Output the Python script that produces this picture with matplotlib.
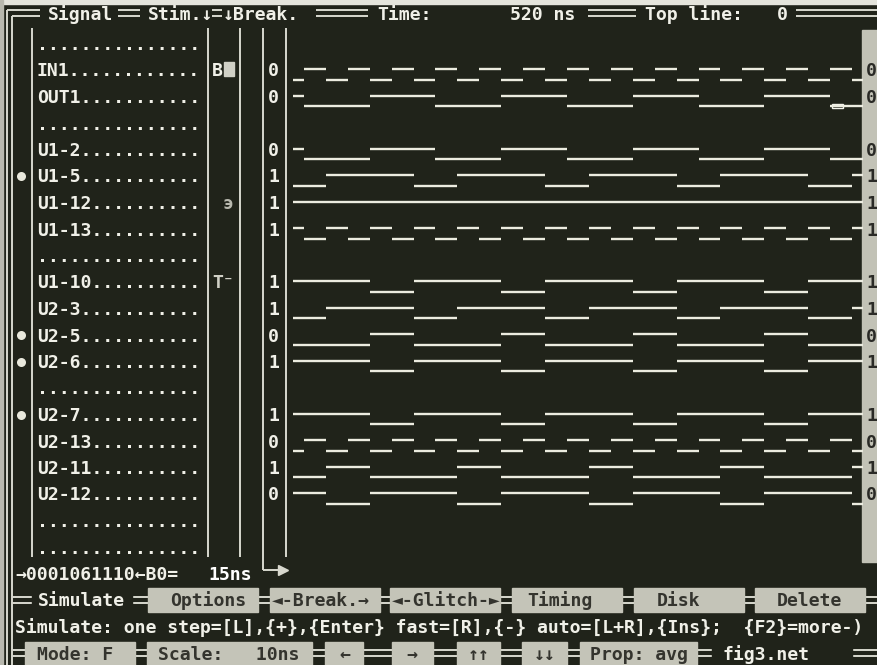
import matplotlib
matplotlib.use("Agg")
import matplotlib.pyplot as plt
from matplotlib.patches import Rectangle

# ---------------- data ----------------
signal_names = ["IN1", "OUT1", "U1-2", "U1-5", "U1-12", "U1-13", "U1-10",
                "U2-3", "U2-5", "U2-6", "U2-7", "U2-13", "U2-11", "U2-12"]
signal_rows = [2, 3, 5, 6, 7, 8, 10, 11, 12, 13, 15, 16, 17, 18]
blank_rows = [1, 4, 9, 14, 19, 20]
initial_levels = [0, 1, 1, 0, 1, 1, 1, 0, 0, 1, 1, 0, 0, 1]

in1_edges = [10, 30, 50, 70, 90, 110, 130, 150, 170, 190, 210, 230, 250,
             270, 290, 310, 330, 350, 370, 390, 410, 430, 450, 470, 490, 510]
out1_edges = [10, 70, 130, 190, 250, 310, 370, 430, 490]
u1_2_edges = [10, 70, 130, 190, 250, 310, 370, 430, 490]
u1_5_edges = [30, 110, 150, 230, 270, 350, 390, 470, 510]
u1_12_edges = []
u1_13_edges = [10, 30, 50, 70, 90, 110, 130, 150, 170, 190, 210, 230, 250,
               270, 290, 310, 330, 350, 370, 390, 410, 430, 450, 470, 490, 510]
u1_10_edges = [70, 110, 190, 230, 310, 350, 430, 470]
u2_3_edges = [30, 110, 150, 230, 270, 350, 390, 470, 510]
u2_5_edges = [70, 110, 190, 230, 310, 350, 430, 470]
u2_6_edges = [70, 110, 190, 230, 310, 350, 430, 470]
u2_7_edges = [70, 110, 190, 230, 310, 350, 430, 470]
u2_13_edges = [10, 30, 50, 70, 90, 110, 130, 150, 170, 190, 210, 230, 250,
               270, 290, 310, 330, 350, 370, 390, 410, 430, 450, 470, 490, 510]
u2_11_edges = [30, 70, 150, 190, 270, 310, 390, 430, 510]
u2_12_edges = [30, 70, 150, 190, 270, 310, 390, 430, 510]
signal_edges = [in1_edges, out1_edges, u1_2_edges, u1_5_edges, u1_12_edges,
                u1_13_edges, u1_10_edges, u2_3_edges, u2_5_edges, u2_6_edges,
                u2_7_edges, u2_13_edges, u2_11_edges, u2_12_edges]
time_end_ns = 520
cursor_ns = 490
marker_rows = [6, 12, 13, 15]

header_texts = ["Signal", "Stim.\u2193", "\u2193Break.", "Time:", "520 ns", "Top line:", "0"]
status_text = "\u21920001061110\u2190B0="
status_time = "15ns"
menu_title = "Simulate"
menu_buttons = ["Options", "\u25c4-Break.\u2192", "\u25c4-Glitch-\u25ba", "Timing", "Disk", "Delete"]
help_text = "Simulate: one step=[L],{+},{Enter} fast=[R],{-} auto=[L+R],{Ins};  {F2}=more-)"
bottom_buttons = ["Mode: F", "Scale:   10ns", "\u2190", "\u2192", "\u2191\u2191", "\u2193\u2193", "Prop: avg"]
bottom_file = "fig3.net"

# ---------------- style / layout ----------------
W, H = 877, 665
BG = "#20231a"
FG = "#f0f0e8"
LINE = "#d8d8ce"
BTN = "#c4c4b8"
BTN_TXT = "#34342e"
STRIP = "#c2c2b6"
FS = 13.1
FONT = dict(family="DejaVu Sans Mono", fontweight="bold", fontsize=FS)

def col_x(c):
    return 4 + c * 10.96

def row_y(r):
    return 17 + 26.5 * r

BASE = 6.5  # baseline offset below row centre

fig = plt.figure(figsize=(W / 100, H / 100), dpi=100, facecolor=BG)
ax = fig.add_axes([0, 0, 1, 1])
ax.set_xlim(0, W)
ax.set_ylim(H, 0)
ax.axis("off")
ax.set_facecolor(BG)

def hline(x0, x1, y, color=LINE, lw=1.4):
    ax.plot([x0, x1], [y, y], color=color, lw=lw, solid_capstyle="butt")

def vline(x, y0, y1, color=LINE, lw=1.4):
    ax.plot([x, x], [y0, y1], color=color, lw=lw, solid_capstyle="butt")

def dline(x0, x1, yc, color=LINE):
    hline(x0, x1, yc - 3, color)
    hline(x0, x1, yc + 3, color)

# photo paper edges
ax.add_patch(Rectangle((0, 0), W, 4, color="#e4e4dc", zorder=1))
ax.add_patch(Rectangle((0, 0), 3, H, color="#b8b8ae", zorder=1))

# outer left double border
vline(6.5, 10, H)
vline(11.5, 16, H)

# header row
hy = 13
header_x = [48, 148, 223, 377, 510, 645, 777]
for s, x in zip(header_texts, header_x):
    ax.text(x, row_y(0) + BASE - 4, s, color=FG, va="baseline", ha="left", **FONT)
for x0, x1 in [(6.5, 40), (118, 140), (212, 222), (316, 368), (588, 636), (796, W)]:
    hline(x0, x1, hy - 3)
    hline(x0 if x0 > 7 else 11.5, x1, hy + 3)

# right strip
ax.add_patch(Rectangle((862, 30), W - 862, 532, color=STRIP, zorder=1))

# panel vertical lines
for x in [32, 208, 240, 286]:
    vline(x, 28, 557)
vline(263, 28, 570)
hline(263, 281, 570)
ax.plot([283], [570], marker=">", ms=7, color=LINE, mec=LINE)

# signal names, dotted fillers, values
final_levels = [(lvl + len(e)) % 2 for lvl, e in zip(initial_levels, signal_edges)]
for name, r, v in zip(signal_names, signal_rows, final_levels):
    ax.text(col_x(3), row_y(r) + BASE, name + "." * (15 - len(name)),
            color=FG, va="baseline", ha="left", **FONT)
    ax.text(col_x(24) + 1, row_y(r) + BASE, str(v), color=FG, va="baseline", ha="left", **FONT)
    ax.text(866, row_y(r) + BASE, str(v), color="#2a2a26", va="baseline", ha="left", **FONT)
for r in blank_rows:
    ax.text(col_x(3), row_y(r) + BASE, "." * 15, color=FG, va="baseline", ha="left", **FONT)

# stimulus column marks
ax.text(212, row_y(2) + BASE, "B", color=FG, va="baseline", ha="left", **FONT)
ax.add_patch(Rectangle((224, 62), 10, 14, color="#d0d0c6", zorder=2))
ax.text(223, row_y(7) + BASE, "\u044d", color="#b8b8ae", va="baseline", ha="left", **FONT)
ax.text(212, row_y(10) + BASE, "T\u207b", color="#d0d0c6", va="baseline", ha="left", **FONT)

# breakpoint dots on left
ax.plot([21] * len(marker_rows), [row_y(r) for r in marker_rows], "o",
        ms=6.5, color="#e8e8dc", mec="none", ls="none")

# status row 21
ax.text(col_x(1), row_y(21) + BASE, status_text, color=FG, va="baseline", ha="left", **FONT)
ax.text(col_x(19) - 4, row_y(21) + BASE, status_time, color="#ffffff", va="baseline", ha="left", **FONT)

# menu row 22
my = row_y(22)
dline(11.5, W, my)
ax.add_patch(Rectangle((32, my - 12), 100, 24, color=BG, zorder=2))
ax.text(38, my + BASE, menu_title, color=FG, va="baseline", ha="left", zorder=3, **FONT)
menu_box_x = [148, 270, 390, 512, 634, 755]
menu_text_x = [170, 272, 392, 527, 657, 777]
for lab, bx, tx in zip(menu_buttons, menu_box_x, menu_text_x):
    ax.add_patch(Rectangle((bx, my - 12), 110, 24, color=BTN, zorder=2))
    ax.text(tx, my + BASE, lab, color=BTN_TXT, va="baseline", ha="left", zorder=3, **FONT)

# help row 23
ax.text(col_x(1), row_y(23) + BASE, help_text, color=FG, va="baseline", ha="left", **FONT)

# bottom row 24
by = row_y(24)
dline(11.5, W, by)
bottom_boxes = [(25, 135), (147, 312), (325, 363), (392, 433), (457, 500), (522, 567), (580, 697)]
bottom_text_x = [37, 158, 339, 406, 468, 534, 590]
for lab, (x0, x1), tx in zip(bottom_buttons, bottom_boxes, bottom_text_x):
    ax.add_patch(Rectangle((x0, by - 11), x1 - x0, 24, color=BTN, zorder=2))
    ax.text(tx, by + BASE, lab, color=BTN_TXT, va="baseline", ha="left", zorder=3, **FONT)
ax.add_patch(Rectangle((712, by - 11), 140, 24, color=BG, zorder=2))
ax.text(722, by + BASE, bottom_file, color=FG, va="baseline", ha="left", zorder=3, **FONT)

# ---------------- waveform area ----------------
wx0, px_per_ns = 293, 1.096
wx1 = wx0 + time_end_ns * px_per_ns
wy0, wy1 = 30, 560
wave = fig.add_axes([wx0 / W, 1 - wy1 / H, (wx1 - wx0) / W, (wy1 - wy0) / H])
wave.set_xlim(0, time_end_ns)
wave.set_ylim((wy1 - 17) / 26.5, (wy0 - 17) / 26.5)
wave.axis("off")
wave.patch.set_visible(False)

HIGH_OFF, LOW_OFF = -0.02, 0.36
for r, lvl0, edges in zip(signal_rows, initial_levels, signal_edges):
    times = [0] + list(edges) + [time_end_ns]
    lvl = lvl0
    for t0, t1 in zip(times[:-1], times[1:]):
        y = r + (HIGH_OFF if lvl else LOW_OFF)
        wave.hlines(y, t0, t1, color="#ecece0", lw=1.7)
        lvl = 1 - lvl

# cursor box on OUT1
wave.add_patch(Rectangle((cursor_ns + 2, 3 + LOW_OFF - 0.09), 10, 0.18,
                         fill=False, ec="#f4f4ec", lw=1.0))

fig.savefig("out.png", dpi=100, facecolor=BG)
